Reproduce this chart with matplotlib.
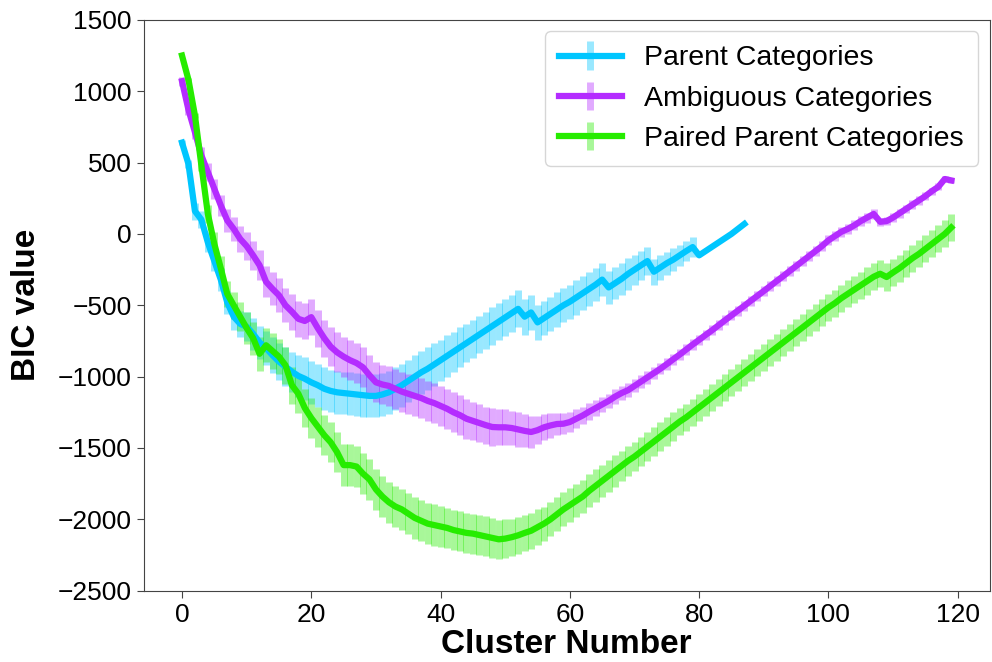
import numpy as np
import matplotlib
matplotlib.use("Agg")
import matplotlib.pyplot as plt

plt.rcParams['font.family'] = ['Liberation Sans', 'DejaVu Sans']

# BIC values, one per cluster number
parent_bic = [
    640, 490, 160, 100, -60, -190, -320, -480, -580, -630,
    -650, -700, -760, -800, -850, -895, -930, -965, -995, -1015,
    -1040, -1060, -1085, -1100, -1110, -1115, -1120, -1125, -1130, -1135,
    -1135, -1125, -1110, -1085, -1060, -1030, -1000, -970, -945, -915,
    -885, -855, -825, -795, -765, -735, -705, -675, -645, -615,
    -585, -555, -525, -580, -550, -620, -590, -560, -530, -500,
    -475, -445, -415, -385, -355, -320, -375, -345, -315, -280,
    -250, -220, -190, -265, -235, -205, -180, -150, -120, -92,
    -150, -120, -90, -60, -30, 0, 35, 70,
]
parent_err = [
    20, 30, 60, 60, 70, 70, 80, 80, 90, 90,
    100, 110, 115, 120, 125, 130, 135, 140, 145, 150,
    150, 150, 150, 150, 150, 150, 150, 150, 150, 150,
    150, 150, 150, 150, 150, 150, 150, 150, 150, 150,
    145, 145, 140, 140, 135, 135, 130, 130, 130, 130,
    130, 130, 130, 125, 125, 125, 120, 120, 120, 120,
    120, 120, 120, 120, 115, 115, 115, 110, 110, 110,
    105, 100, 95, 90, 85, 80, 80, 75, 70, 70,
    0, 0, 0, 0, 0, 0, 0, 0,
]

ambig_bic = [
    1070, 870, 713, 550, 433, 316, 200, 95, 35, -35,
    -85, -150, -220, -335, -385, -430, -500, -545, -595, -610,
    -583, -660, -730, -790, -830, -860, -885, -905, -935, -990,
    -1040, -1055, -1065, -1085, -1105, -1120, -1135, -1150, -1170, -1185,
    -1205, -1225, -1250, -1270, -1295, -1310, -1325, -1340, -1353, -1355,
    -1355, -1360, -1370, -1380, -1388, -1375, -1355, -1342, -1332, -1330,
    -1318, -1295, -1272, -1245, -1220, -1195, -1170, -1140, -1115, -1095,
    -1065, -1035, -1005, -975, -945, -912, -878, -845, -810, -775,
    -742, -708, -675, -640, -605, -571, -537, -503, -468, -434,
    -400, -365, -330, -296, -260, -225, -190, -155, -120, -85,
    -45, -15, 15, 35, 60, 90, 115, 140, 85, 90,
    115, 145, 175, 205, 235, 265, 300, 330, 385, 375,
]
ambig_err = [
    30, 40, 50, 60, 65, 70, 75, 80, 85, 90,
    95, 100, 105, 110, 115, 120, 120, 125, 125, 125,
    125, 130, 130, 135, 140, 140, 140, 140, 140, 140,
    140, 140, 140, 140, 140, 140, 140, 140, 140, 140,
    140, 140, 140, 140, 140, 135, 135, 130, 130, 125,
    125, 120, 120, 115, 110, 100, 90, 85, 80, 75,
    70, 65, 60, 60, 55, 55, 50, 50, 50, 50,
    45, 45, 45, 45, 40, 40, 40, 40, 40, 40,
    35, 35, 35, 35, 35, 35, 35, 35, 35, 35,
    35, 35, 35, 35, 35, 35, 35, 35, 35, 35,
    35, 35, 35, 35, 35, 35, 35, 35, 30, 30,
    30, 30, 30, 30, 30, 30, 25, 25, 20, 20,
]

paired_bic = [
    1250, 1080, 830, 480, 140, -70, -240, -420, -500, -580,
    -660, -730, -840, -780, -820, -860, -920, -1060, -1120, -1220,
    -1290, -1350, -1410, -1460, -1530, -1620, -1620, -1630, -1680, -1720,
    -1790, -1840, -1880, -1910, -1930, -1960, -1990, -2010, -2030, -2040,
    -2050, -2060, -2075, -2085, -2095, -2100, -2110, -2120, -2130, -2140,
    -2135, -2125, -2112, -2095, -2080, -2055, -2030, -2000, -1965, -1930,
    -1900, -1870, -1840, -1800, -1765, -1730, -1695, -1660, -1625, -1590,
    -1560, -1525, -1490, -1455, -1420, -1385, -1350, -1315, -1285, -1250,
    -1215, -1180, -1145, -1110, -1075, -1040, -1005, -970, -935, -900,
    -865, -830, -795, -760, -725, -690, -655, -620, -585, -550,
    -515, -485, -450, -420, -390, -360, -330, -300, -279, -302,
    -270, -240, -205, -170, -140, -105, -70, -35, 0, 45,
]
paired_err = [
    0, 10, 20, 40, 60, 80, 85, 90, 95, 100,
    110, 115, 120, 120, 125, 125, 130, 130, 135, 135,
    140, 140, 140, 140, 140, 145, 145, 145, 145, 145,
    145, 145, 145, 145, 145, 145, 145, 145, 145, 145,
    145, 140, 140, 140, 140, 140, 140, 140, 140, 135,
    135, 130, 130, 125, 125, 125, 120, 120, 120, 120,
    120, 115, 115, 115, 115, 110, 110, 110, 105, 105,
    100, 100, 100, 100, 100, 100, 100, 95, 95, 95,
    95, 95, 95, 95, 95, 95, 95, 95, 95, 95,
    95, 95, 95, 95, 95, 95, 95, 95, 95, 95,
    95, 95, 95, 95, 95, 95, 95, 95, 95, 95,
    95, 95, 95, 95, 95, 95, 95, 95, 95, 95,
]

series = [
    ("Parent Categories", parent_bic, parent_err, "#00c6ff"),
    ("Ambiguous Categories", ambig_bic, ambig_err, "#b42cff"),
    ("Paired Parent Categories", paired_bic, paired_err, "#26ec00"),
]

fig = plt.figure(figsize=(9.92, 6.62), dpi=100)
ax = fig.add_axes([0.1447, 0.1077, 0.853, 0.8623])

for label, vals, errs, color in series:
    x = np.arange(len(vals))
    eb = ax.errorbar(x, vals, yerr=errs, color=color, linewidth=4.5,
                     elinewidth=5, capsize=0, label=label)
    eb[2][0].set_alpha(0.4)

ax.set_ylim(-2500, 1500)
ax.set_yticks(np.arange(-2500, 1501, 500))
ax.set_xticks(np.arange(0, 121, 20))
ax.tick_params(labelsize=19, length=5, color="#444444")
for side in ["left", "bottom", "top", "right"]:
    ax.spines[side].set_color("#444444")

ax.set_xlabel("Cluster Number", fontsize=24, fontweight="bold", labelpad=2)
ax.set_ylabel("BIC value", fontsize=24, fontweight="bold", labelpad=11)

ax.legend(loc="upper right", fontsize=20.5, handlelength=2.2,
          borderaxespad=0.4, labelspacing=0.5, borderpad=0.5)

fig.savefig("out.png", dpi=100)
